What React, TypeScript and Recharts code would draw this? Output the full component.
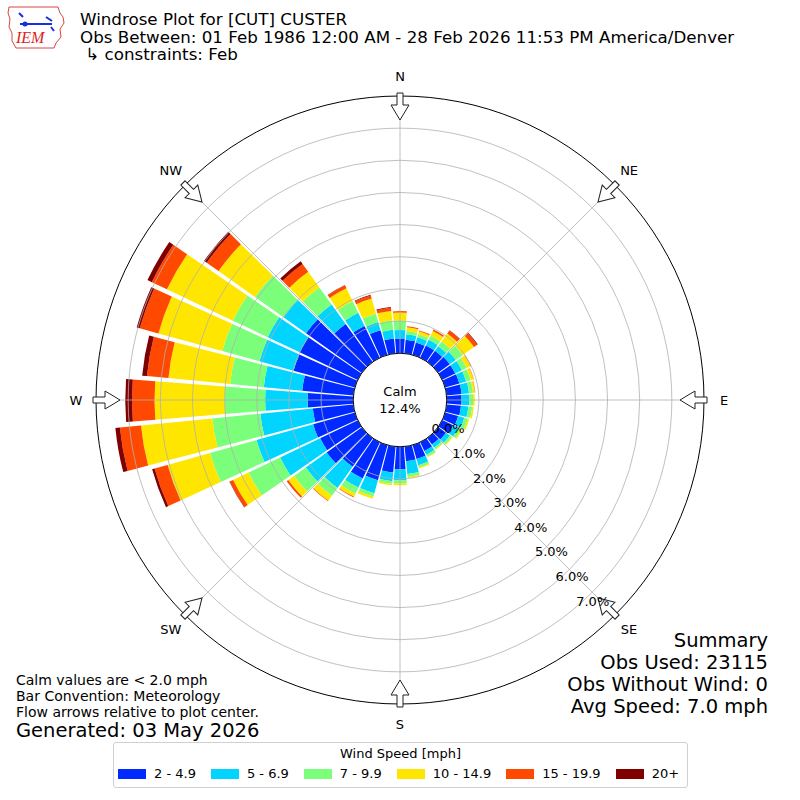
import React from 'react'
import {
  RadialBarChart,
  RadialBar,
  RadarChart,
  PolarAngleAxis,
  PolarRadiusAxis,
  PolarGrid,
} from 'recharts'

// wind directions (degrees, meteorological convention)
const DIRS = [
  0, 10, 20, 30, 40, 50, 60, 70, 80, 90, 100, 110, 120, 130, 140, 150, 160, 170,
  180, 190, 200, 210, 220, 230, 240, 250, 260, 270, 280, 290, 300, 310, 320, 330, 340, 350,
]

// frequency (%) per speed bin, one value per direction
const SPD_2_5 = [
  0.46, 0.43, 0.4, 0.42, 0.42, 0.45, 0.45, 0.46, 0.47, 0.46, 0.45, 0.42, 0.38, 0.3, 0.25, 0.3, 0.45, 0.46,
  0.7, 0.81, 1.13, 1.25, 1.09, 1.35, 1.3, 1.35, 1.27, 1.42, 1.6, 1.98, 2.0, 2.13, 1.45, 1.1, 0.8, 0.47,
]
const SPD_5_7 = [
  0.26, 0.17, 0.17, 0.2, 0.18, 0.23, 0.23, 0.22, 0.23, 0.24, 0.23, 0.2, 0.17, 0.15, 0.12, 0.13, 0.2, 0.4,
  0.34, 0.27, 0.42, 0.31, 0.81, 0.8, 1.38, 1.83, 1.64, 1.32, 1.2, 1.1, 1.1, 0.86, 0.75, 0.45, 0.26, 0.27,
]
const SPD_7_10 = [
  0.3, 0.1, 0.1, 0.14, 0.18, 0.27, 0.17, 0.15, 0.13, 0.12, 0.12, 0.11, 0.09, 0.07, 0.06, 0.07, 0.07, 0.09,
  0.1, 0.08, 0.11, 0.21, 0.3, 0.45, 1.09, 1.5, 1.5, 1.26, 1.05, 1.2, 1.2, 1.09, 0.65, 0.4, 0.27, 0.29,
]
const SPD_10_15 = [
  0.25, 0.12, 0.09, 0.16, 0.3, 0.43, 0.13, 0.09, 0.06, 0.05, 0.05, 0.05, 0.04, 0.03, 0.02, 0.02, 0.03, 0.04,
  0.06, 0.05, 0.07, 0.11, 0.19, 0.22, 0.53, 1.37, 2.23, 2.18, 1.93, 2.06, 2.27, 1.39, 0.6, 0.45, 0.49, 0.3,
]
const SPD_15_20 = [
  0.04, 0.03, 0.03, 0.05, 0.12, 0.12, 0.02, 0.01, 0.01, 0, 0, 0, 0, 0, 0, 0, 0, 0,
  0, 0, 0, 0.02, 0.02, 0.06, 0.12, 0.42, 0.66, 0.7, 0.67, 0.6, 0.52, 0.45, 0.3, 0.1, 0.1, 0.1,
]
const SPD_20 = [
  0, 0, 0, 0, 0.01, 0.02, 0, 0, 0, 0, 0, 0, 0, 0, 0, 0, 0, 0,
  0, 0, 0, 0, 0, 0, 0.01, 0.08, 0.14, 0.21, 0.15, 0.1, 0.15, 0.1, 0.1, 0.01, 0.02, 0.02,
]

const BIN_LABELS = ['2 - 4.9', '5 - 6.9', '7 - 9.9', '10 - 14.9', '15 - 19.9', '20+']
const BIN_COLORS = ['#002aff', '#00d4ff', '#7bff7b', '#ffe600', '#ff4800', '#800000']
const BIN_SERIES = [SPD_2_5, SPD_5_7, SPD_7_10, SPD_10_15, SPD_15_20, SPD_20]

const COMPASS_LBL = ['N', 'NE', 'E', 'SE', 'S', 'SW', 'W', 'NW']
const RING_TICKS = [0, 1, 2, 3, 4, 5, 6, 7]
const RADIUS_DOMAIN = [-1.455, 7.76]

const CALM_PCT = '12.4%'

const data = DIRS.map((d, i) => {
  const row: Record<string, number | string> = { dir: String(d) }
  BIN_SERIES.forEach((s, k) => {
    row['b' + k] = s[i]
  })
  return row
})

const compassData = COMPASS_LBL.map((name) => ({ name }))

const CX = 400
const CY = 400
const OUTER = 304
const TICK_GAP = 20
const FONT = "'DejaVu Sans', sans-serif"

const CompassTick = (props: any) => {
  const { x, y, payload } = props
  const dx = x - CX
  const dy = y - CY
  const d = Math.hypot(dx, dy)
  const ux = dx / d
  const uy = dy / d
  const bx = CX + ux * (d - TICK_GAP + 3)
  const by = CY + uy * (d - TICK_GAP + 3)
  const rot = (Math.atan2(-uy, -ux) * 180) / Math.PI
  return (
    <g>
      <g transform={`translate(${bx},${by}) rotate(${rot})`}>
        <polygon
          points="0,-3 12,-3 12,-9 27,0 12,9 12,3 0,3"
          fill="#fff"
          stroke="#222"
          strokeWidth={1}
        />
      </g>
      <text x={x} y={y} textAnchor="middle" dominantBaseline="central" fontSize={13} fontFamily={FONT} fill="#000">
        {payload.value}
      </text>
    </g>
  )
}

const RingTick = (props: any) => {
  const { x, y, payload } = props
  const r = Math.hypot(x - CX, y - CY)
  return (
    <g>
      {payload.value === 0 && (
        <g>
          <circle cx={CX} cy={CY} r={r} fill="#fff" stroke="#000" strokeWidth={1} />
          <text x={CX} y={CY - 9} textAnchor="middle" dominantBaseline="central" fontSize={13} fontFamily={FONT}>
            Calm
          </text>
          <text x={CX} y={CY + 8} textAnchor="middle" dominantBaseline="central" fontSize={13} fontFamily={FONT}>
            {CALM_PCT}
          </text>
        </g>
      )}
      <text x={x + 18} y={y - 7} textAnchor="middle" dominantBaseline="central" fontSize={13} fontFamily={FONT}>
        {Number(payload.value).toFixed(1)}%
      </text>
    </g>
  )
}

const IemLogo = () => (
  <svg width={62} height={50} style={{ position: 'absolute', left: 6, top: 3 }}>
    <polygon
      points="3,4 52,4 54,10 57,14 58,20 54,26 55,34 50,40 48,45 10,45 6,38 6,30 3,24 4,16 2,10"
      fill="none"
      stroke="#d44"
      strokeWidth={1}
    />
    <line x1={14} y1={21} x2={46} y2={21} stroke="#1a2ee0" strokeWidth={2} />
    <circle cx={19} cy={21} r={2.5} fill="#1a2ee0" />
    <path d="M13,10 L17,14 M40,14 L46,18 M45,24 L48,28" stroke="#1a2ee0" strokeWidth={2} />
    <text x={10} y={40} fontSize={16} fontStyle="italic" fontFamily="'Liberation Serif', serif" fill="#d22">
      IEM
    </text>
  </svg>
)

const App: React.FC = () => {
  return (
    <div
      style={{
        position: 'absolute',
        left: 0,
        top: 0,
        width: 800,
        height: 800,
        background: '#fff',
        fontFamily: FONT,
        color: '#000',
      }}
    >
      <IemLogo />
      <div style={{ position: 'absolute', left: 80, top: 11, fontSize: 16.7, lineHeight: '17.5px', whiteSpace: 'pre' }}>
        <div>Windrose Plot for [CUT] CUSTER</div>
        <div>Obs Between: 01 Feb 1986 12:00 AM - 28 Feb 2026 11:53 PM America/Denver</div>
        <div> ↳ constraints: Feb</div>
      </div>

      {/* stacked bars */}
      <RadialBarChart
        width={800}
        height={800}
        data={data}
        layout="centric"
        cx={CX}
        cy={CY}
        innerRadius={0}
        outerRadius={OUTER}
        startAngle={85}
        endAngle={-275}
        barCategoryGap="6%"
        margin={{ top: 0, right: 0, bottom: 0, left: 0 }}
        style={{ position: 'absolute', left: 0, top: 0 }}
      >
        <PolarAngleAxis type="category" dataKey="dir" axisLine={false} tickLine={false} tick={false} />
        <PolarRadiusAxis
          type="number"
          domain={RADIUS_DOMAIN}
          allowDataOverflow
          axisLine={false}
          tickLine={false}
          tick={false}
        />
        {BIN_SERIES.map((_, k) => (
          <RadialBar
            key={k}
            dataKey={'b' + k}
            name={BIN_LABELS[k]}
            stackId="wind"
            fill={BIN_COLORS[k]}
            isAnimationActive={false}
          />
        ))}
      </RadialBarChart>

      {/* grid, compass and rings drawn over the bars */}
      <RadarChart
        width={800}
        height={800}
        data={compassData}
        cx={CX}
        cy={CY}
        innerRadius={0}
        outerRadius={OUTER}
        startAngle={90}
        endAngle={-270}
        margin={{ top: 0, right: 0, bottom: 0, left: 0 }}
        style={{ position: 'absolute', left: 0, top: 0, pointerEvents: 'none' }}
      >
        <PolarGrid gridType="circle" stroke="#b0b0b0" strokeWidth={0.8} />
        <PolarAngleAxis
          dataKey="name"
          tickSize={TICK_GAP}
          tickLine={false}
          axisLineType="circle"
          axisLine={{ stroke: '#000', strokeWidth: 1 }}
          tick={<CompassTick />}
        />
        <PolarRadiusAxis
          type="number"
          domain={RADIUS_DOMAIN}
          allowDataOverflow
          ticks={RING_TICKS}
          angle={-50}
          axisLine={false}
          tickLine={false}
          tick={<RingTick />}
        />
      </RadarChart>

      <div
        style={{
          position: 'absolute',
          right: 32,
          top: 630,
          fontSize: 19.5,
          lineHeight: '22px',
          textAlign: 'right',
          whiteSpace: 'nowrap',
        }}
      >
        <div>Summary</div>
        <div>Obs Used: 23115</div>
        <div>Obs Without Wind: 0</div>
        <div>Avg Speed: 7.0 mph</div>
      </div>

      <div style={{ position: 'absolute', left: 16, top: 672, fontSize: 14, lineHeight: '16px', whiteSpace: 'nowrap' }}>
        <div>Calm values are &lt; 2.0 mph</div>
        <div>Bar Convention: Meteorology</div>
        <div>Flow arrows relative to plot center.</div>
        <div style={{ fontSize: 19.5, lineHeight: '22px' }}>Generated: 03 May 2026</div>
      </div>

      <div
        style={{
          position: 'absolute',
          left: 113,
          top: 742,
          width: 575,
          height: 46,
          boxSizing: 'border-box',
          border: '1px solid #d0d0d0',
          borderRadius: 3,
          fontSize: 13,
          whiteSpace: 'nowrap',
        }}
      >
        <div style={{ textAlign: 'center', marginTop: 3, lineHeight: '16px' }}>Wind Speed [mph]</div>
        <div style={{ display: 'flex', alignItems: 'center', paddingLeft: 4, marginTop: 4 }}>
          {BIN_LABELS.map((lbl, k) => (
            <div key={lbl} style={{ display: 'flex', alignItems: 'center', marginRight: 15 }}>
              <div style={{ width: 28, height: 10, background: BIN_COLORS[k], marginRight: 8 }} />
              <span>{lbl}</span>
            </div>
          ))}
        </div>
      </div>
    </div>
  )
}

export default App
